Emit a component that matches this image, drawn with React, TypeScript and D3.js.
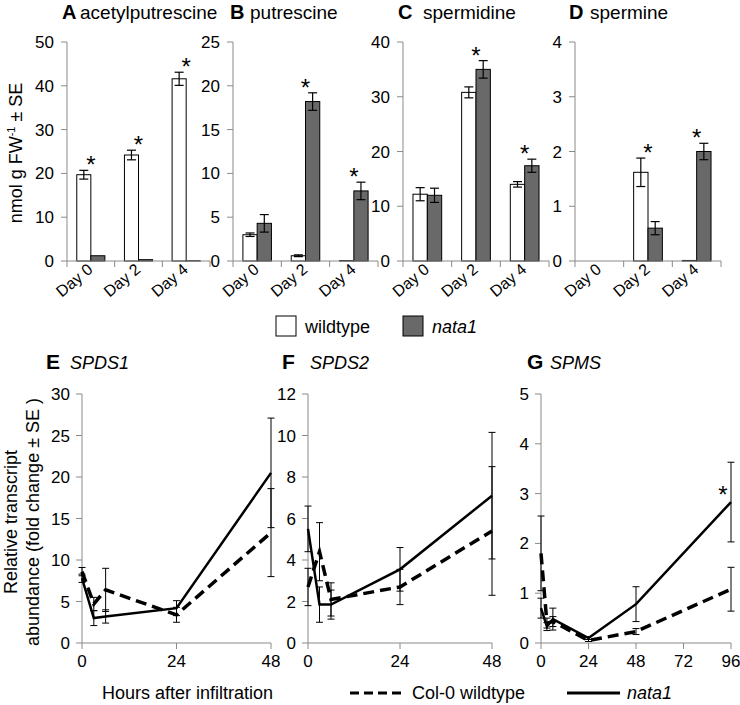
import React from "react";
import * as d3 from "d3";

const FONT = "'Liberation Sans', Arial, Helvetica, sans-serif";
const AXIS = "#8a8a8a";
const DARK = "#696969";

// ---------- top panels (bar charts) ----------
const days = ["Day 0", "Day 2", "Day 4"];

const acetylWt = [19.7, 24.2, 41.6];
const acetylWtSe = [1.0, 1.1, 1.5];
const acetylNata = [1.2, 0.3, 0.05];
const acetylNataSe = [0, 0, 0];
const acetylStars = [true, true, true];

const putWt = [3.0, 0.6, 0.05];
const putWtSe = [0.2, 0.1, 0];
const putNata = [4.3, 18.2, 8.0];
const putNataSe = [1.0, 1.0, 1.0];
const putStars = [false, true, true];

const spdWt = [12.2, 30.8, 14.0];
const spdWtSe = [1.2, 1.0, 0.5];
const spdNata = [12.0, 35.0, 17.4];
const spdNataSe = [1.3, 1.6, 1.2];
const spdStars = [false, true, true];

const spmWt = [0, 1.62, 0.01];
const spmWtSe = [0, 0.26, 0];
const spmNata = [0, 0.6, 2.0];
const spmNataSe = [0, 0.12, 0.15];
const spmStars = [false, true, true];

// ---------- bottom panels (line charts) ----------
const hours = [0, 3, 6, 24, 48];
const hoursG = [0, 3, 6, 24, 48, 96];

const spds1Wt = [8.6, 4.7, 6.4, 3.4, 13.3];
const spds1WtSe = [0.5, 0.8, 2.6, 0.9, 5.3];
const spds1Nata = [7.8, 3.0, 3.2, 4.2, 20.5];
const spds1NataSe = [0.5, 0.9, 0.8, 0.9, 6.6];

const spds2Wt = [2.7, 4.4, 2.1, 2.7, 5.4];
const spds2WtSe = [0.9, 1.4, 0.8, 0.85, 3.1];
const spds2Nata = [5.5, 1.85, 1.85, 3.55, 7.1];
const spds2NataSe = [1.1, 0.85, 0.7, 1.05, 3.05];

const spmsWt = [1.8, 0.4, 0.43, 0.05, 0.23, 1.08];
const spmsWtSe = [0.75, 0.1, 0.1, 0.02, 0.06, 0.44];
const spmsNata = [0.7, 0.33, 0.48, 0.1, 0.78, 2.83];
const spmsNataSe = [0.2, 0.08, 0.22, 0.03, 0.35, 0.8];

type BarProps = {
  x0: number; x1: number; yMax: number; yStep: number;
  wt: number[]; wtSe: number[]; nata: number[]; nataSe: number[]; stars: boolean[];
  letter: string; letterX: number; title: string; titleX: number;
};

const TOP_Y0 = 261;
const TOP_Y1 = 42;

function BarPanel(p: BarProps) {
  const x = d3.scaleBand<string>().domain(days).range([p.x0, p.x1]).paddingInner(0).paddingOuter(0);
  const y = d3.scaleLinear().domain([0, p.yMax]).range([TOP_Y0, TOP_Y1]);
  const ticks = d3.range(0, p.yMax + 1e-9, p.yStep);
  const bw = x.bandwidth() * 0.295;
  const boundaries = [0, 1, 2, 3].map((i) => p.x0 + i * x.bandwidth());
  return (
    <g>
      <text x={p.letterX} y={19} fontFamily={FONT} fontWeight="bold" fontSize={20}>{p.letter}</text>
      <text x={p.titleX} y={19} fontFamily={FONT} fontSize={19}>{p.title}</text>
      {/* y axis */}
      <line x1={p.x0} x2={p.x0} y1={y(p.yMax)} y2={y(0)} stroke={AXIS} strokeWidth={1} />
      {ticks.map((t) => (
        <g key={t}>
          <line x1={p.x0 - 6} x2={p.x0} y1={y(t)} y2={y(t)} stroke={AXIS} />
          <text x={p.x0 - 13} y={y(t) + 6} textAnchor="end" fontFamily={FONT} fontSize={17}>{t}</text>
        </g>
      ))}
      {/* bars */}
      {days.map((d, i) => {
        const cx = (x(d) as number) + x.bandwidth() / 2;
        const items = [
          { v: p.wt[i], se: p.wtSe[i], fill: "#ffffff", xl: cx - bw },
          { v: p.nata[i], se: p.nataSe[i], fill: DARK, xl: cx },
        ];
        const tops = items.map((it) => y(it.v + it.se));
        return (
          <g key={d}>
            {items.map((it, j) =>
              it.v > 0 ? (
                <g key={j}>
                  <rect x={it.xl} y={y(it.v)} width={bw} height={y(0) - y(it.v)} fill={it.fill} stroke="#000" strokeWidth={1} />
                  {it.se > 0 && (
                    <g stroke="#000" strokeWidth={1.2}>
                      <line x1={it.xl + bw / 2} x2={it.xl + bw / 2} y1={y(it.v + it.se)} y2={y(it.v - it.se)} />
                      <line x1={it.xl + bw / 2 - 4.5} x2={it.xl + bw / 2 + 4.5} y1={y(it.v + it.se)} y2={y(it.v + it.se)} />
                      <line x1={it.xl + bw / 2 - 4.5} x2={it.xl + bw / 2 + 4.5} y1={y(it.v - it.se)} y2={y(it.v - it.se)} />
                    </g>
                  )}
                </g>
              ) : null
            )}
            {p.stars[i] && (
              <text x={cx} y={Math.min(...tops) + 3} textAnchor="middle" fontFamily={FONT} fontSize={24}>*</text>
            )}
            <text transform={`translate(${cx + 3},${TOP_Y0 + 10}) rotate(-40)`} textAnchor="end" fontFamily={FONT} fontSize={16}>{d}</text>
          </g>
        );
      })}
      {/* x axis */}
      <line x1={p.x0} x2={p.x1} y1={y(0)} y2={y(0)} stroke={AXIS} strokeWidth={1} />
      {boundaries.map((bx, i) => (
        <line key={i} x1={bx} x2={bx} y1={y(0)} y2={y(0) + 6} stroke={AXIS} />
      ))}
    </g>
  );
}

type LineProps = {
  x0: number; x1: number; xMax: number; xTicks: number[];
  yMax: number; yStep: number; t: number[];
  wt: number[]; wtSe: number[]; nata: number[]; nataSe: number[];
  letter: string; letterX: number; title: string; titleX: number; starAt?: number;
};

const BOT_Y0 = 643;
const BOT_Y1 = 394;

function LinePanel(p: LineProps) {
  const x = d3.scaleLinear().domain([0, p.xMax]).range([p.x0, p.x1]);
  const y = d3.scaleLinear().domain([0, p.yMax]).range([BOT_Y0, BOT_Y1]);
  const ticks = d3.range(0, p.yMax + 1e-9, p.yStep);
  const line = d3.line<number>().x((_, i) => x(p.t[i])).y((v) => y(v));
  const err = (vals: number[], se: number[]) =>
    vals.map((v, i) => (
      <g key={i} stroke="#000" strokeWidth={1}>
        <line x1={x(p.t[i])} x2={x(p.t[i])} y1={y(v + se[i])} y2={y(Math.max(0, v - se[i]))} />
        <line x1={x(p.t[i]) - 3.5} x2={x(p.t[i]) + 3.5} y1={y(v + se[i])} y2={y(v + se[i])} />
        <line x1={x(p.t[i]) - 3.5} x2={x(p.t[i]) + 3.5} y1={y(Math.max(0, v - se[i]))} y2={y(Math.max(0, v - se[i]))} />
      </g>
    ));
  return (
    <g>
      <text x={p.letterX} y={369} fontFamily={FONT} fontWeight="bold" fontSize={21}>{p.letter}</text>
      <text x={p.titleX} y={369} fontFamily={FONT} fontStyle="italic" fontSize={18}>{p.title}</text>
      <line x1={p.x0} x2={p.x0} y1={y(p.yMax)} y2={y(0)} stroke={AXIS} />
      {ticks.map((tk) => (
        <g key={tk}>
          <line x1={p.x0 - 6} x2={p.x0} y1={y(tk)} y2={y(tk)} stroke={AXIS} />
          <text x={p.x0 - 12} y={y(tk) + 6} textAnchor="end" fontFamily={FONT} fontSize={17}>{tk}</text>
        </g>
      ))}
      <line x1={p.x0} x2={p.x1} y1={y(0)} y2={y(0)} stroke={AXIS} />
      {p.xTicks.map((tk) => (
        <g key={tk}>
          <line x1={x(tk)} x2={x(tk)} y1={y(0)} y2={y(0) + 6} stroke={AXIS} />
          <text x={x(tk)} y={y(0) + 24} textAnchor="middle" fontFamily={FONT} fontSize={17}>{tk}</text>
        </g>
      ))}
      {err(p.wt, p.wtSe)}
      {err(p.nata, p.nataSe)}
      <path d={line(p.wt) as string} fill="none" stroke="#000" strokeWidth={3.5} strokeDasharray="11,6" />
      <path d={line(p.nata) as string} fill="none" stroke="#000" strokeWidth={2.5} />
      {p.starAt !== undefined && (
        <text x={x(p.t[p.starAt]) - 8} y={y(p.nata[p.starAt] + 0.25) + 13} textAnchor="middle" fontFamily={FONT} fontSize={24}>*</text>
      )}
    </g>
  );
}

export default function App() {
  return (
    <svg width={740} height={705} style={{ position: "absolute", left: 0, top: 0, background: "#fff" }}>
      <rect width={740} height={705} fill="#fff" />
      <text transform="translate(22,153) rotate(-90)" textAnchor="middle" fontFamily={FONT} fontSize={18}>
        nmol g FW<tspan dy={-7} fontSize={11}>-1</tspan><tspan dy={7}> ± SE</tspan>
      </text>
      <BarPanel x0={67} x1={210} yMax={50} yStep={10} wt={acetylWt} wtSe={acetylWtSe} nata={acetylNata} nataSe={acetylNataSe} stars={acetylStars} letter="A" letterX={62} title="acetylputrescine" titleX={80} />
      <BarPanel x0={233} x1={378} yMax={25} yStep={5} wt={putWt} wtSe={putWtSe} nata={putNata} nataSe={putNataSe} stars={putStars} letter="B" letterX={230} title="putrescine" titleX={250} />
      <BarPanel x0={403} x1={549} yMax={40} yStep={10} wt={spdWt} wtSe={spdWtSe} nata={spdNata} nataSe={spdNataSe} stars={spdStars} letter="C" letterX={398} title="spermidine" titleX={423} />
      <BarPanel x0={575} x1={721} yMax={4} yStep={1} wt={spmWt} wtSe={spmWtSe} nata={spmNata} nataSe={spmNataSe} stars={spmStars} letter="D" letterX={569} title="spermine" titleX={590} />

      {/* top legend */}
      <rect x={276} y={316} width={20} height={20} fill="#fff" stroke="#000" />
      <text x={305} y={333} fontFamily={FONT} fontSize={18}>wildtype</text>
      <rect x={403} y={316} width={20} height={20} fill={DARK} stroke="#000" />
      <text x={432} y={333} fontFamily={FONT} fontStyle="italic" fontSize={18}>nata1</text>

      {/* bottom y label */}
      <text transform="translate(17,522) rotate(-90)" textAnchor="middle" fontFamily={FONT} fontSize={18}>Relative transcript</text>
      <text transform="translate(39,522) rotate(-90)" textAnchor="middle" fontFamily={FONT} fontSize={18}>abundance (fold change ± SE )</text>

      <LinePanel x0={82} x1={271} xMax={48} xTicks={[0, 24, 48]} yMax={30} yStep={5} t={hours} wt={spds1Wt} wtSe={spds1WtSe} nata={spds1Nata} nataSe={spds1NataSe} letter="E" letterX={46} title="SPDS1" titleX={70} />
      <LinePanel x0={308} x1={492} xMax={48} xTicks={[0, 24, 48]} yMax={12} yStep={2} t={hours} wt={spds2Wt} wtSe={spds2WtSe} nata={spds2Nata} nataSe={spds2NataSe} letter="F" letterX={282} title="SPDS2" titleX={310} />
      <LinePanel x0={541} x1={731} xMax={96} xTicks={[0, 24, 48, 72, 96]} yMax={5} yStep={1} t={hoursG} wt={spmsWt} wtSe={spmsWtSe} nata={spmsNata} nataSe={spmsNataSe} letter="G" letterX={527} title="SPMS" titleX={550} starAt={5} />

      <text x={102} y={699} fontFamily={FONT} fontSize={18}>Hours after infiltration</text>
      <line x1={350} x2={405} y1={693} y2={693} stroke="#000" strokeWidth={3} strokeDasharray="9,5" />
      <text x={412} y={699} fontFamily={FONT} fontSize={18}>Col-0 wildtype</text>
      <line x1={567} x2={620} y1={693} y2={693} stroke="#000" strokeWidth={3} />
      <text x={627} y={699} fontFamily={FONT} fontStyle="italic" fontSize={18}>nata1</text>
    </svg>
  );
}
